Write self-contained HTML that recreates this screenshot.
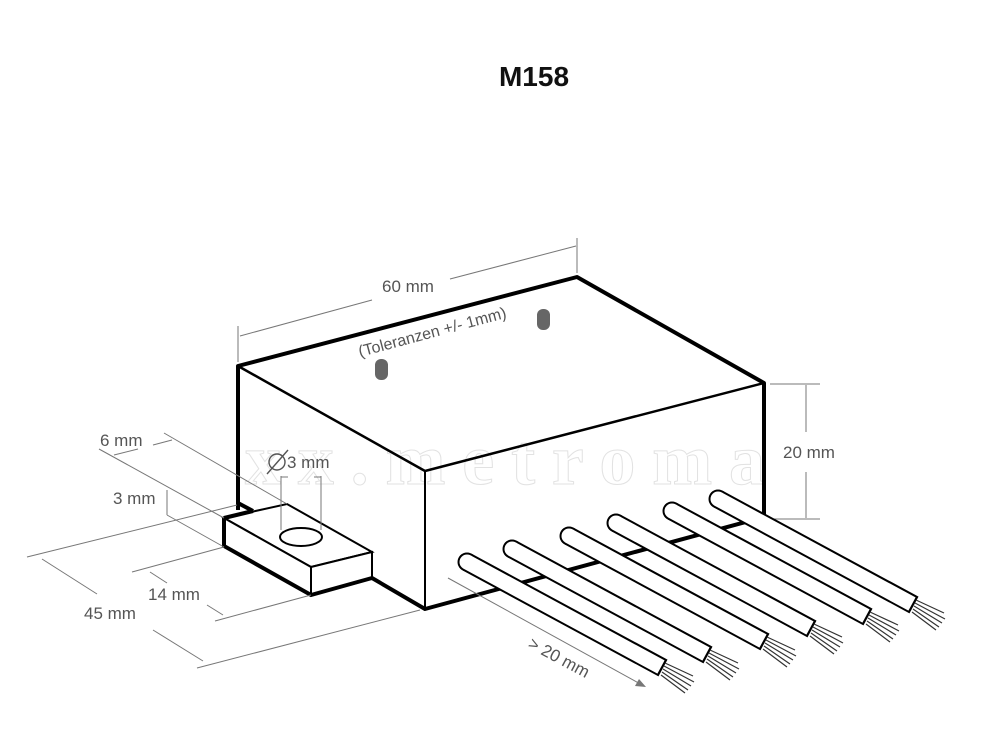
<!DOCTYPE html>
<html><head><meta charset="utf-8"><style>
html,body{margin:0;padding:0;background:#fff;}
svg{display:block;font-family:"Liberation Sans",sans-serif;}
</style></head><body>
<svg width="1000" height="750" viewBox="0 0 1000 750" xmlns="http://www.w3.org/2000/svg">
<rect width="1000" height="750" fill="#fff"/>
<text x="534" y="86" font-size="28" font-weight="bold" text-anchor="middle" fill="#111">M158</text>

<polygon points="238,366 577,277 764,383 425,471" fill="#fff"/>
<polygon points="238,366 425,471 425,608 238,510" fill="#fff"/>
<polygon points="425,471 764,383 764,517 425,608" fill="#fff"/>

<text x="245" y="484" font-family="Liberation Serif,serif" font-size="72" font-weight="bold" fill="none" stroke="#e2e2e2" stroke-width="1" textLength="520">xx.metroma</text>

<g stroke="#000" fill="none" stroke-linejoin="round">
 <polyline points="238,510 238,366 577,277 764,383 764,517" stroke-width="4"/>
 <polyline points="238,366 425,471 764,383" stroke-width="2.5"/>
 <line x1="425" y1="471" x2="425" y2="608" stroke-width="2"/>
 <polyline points="238,503 253,511" stroke-width="4"/>
 <polyline points="372,578 425,609 764,517" stroke-width="4"/>
</g>

<rect x="375" y="359" width="13" height="21" rx="6" fill="#666"/>
<rect x="537" y="309" width="13" height="21" rx="6" fill="#666"/>

<polygon points="224,518 287,504 372,552 311,567" fill="#fff" stroke="#000" stroke-width="2"/>
<polygon points="224,518 311,567 311,595 224,546" fill="#fff" stroke="#000" stroke-width="2"/>
<polygon points="311,567 372,552 372,578 311,595" fill="#fff" stroke="#000" stroke-width="2"/>
<polyline points="224,518 224,546 311,595 372,578" fill="none" stroke="#000" stroke-width="4"/>
<line x1="224" y1="518" x2="253" y2="511" stroke="#000" stroke-width="4"/>
<ellipse cx="301" cy="537" rx="21" ry="9" fill="#fff" stroke="#000" stroke-width="2"/>

<g stroke="#777" stroke-width="1" fill="none">
 <line x1="238" y1="362" x2="238" y2="326"/>
 <line x1="577" y1="273" x2="577" y2="238"/>
 <line x1="240" y1="336" x2="372" y2="300"/>
 <line x1="450" y1="279" x2="576" y2="246"/>
 <line x1="770" y1="384" x2="820" y2="384"/>
 <line x1="770" y1="519" x2="820" y2="519"/>
 <line x1="806" y1="385" x2="806" y2="432"/>
 <line x1="806" y1="472" x2="806" y2="518"/>
 <line x1="281" y1="476" x2="281" y2="530"/>
 <line x1="321" y1="476" x2="321" y2="530"/>
 <line x1="281" y1="477" x2="288" y2="477"/>
 <line x1="314" y1="477" x2="321" y2="477"/>
 <line x1="99" y1="449" x2="224" y2="518"/>
 <line x1="164" y1="433" x2="287" y2="504"/>
 <line x1="114" y1="455" x2="138" y2="449"/>
 <line x1="153" y1="445" x2="172" y2="440"/>
 <line x1="167" y1="490" x2="167" y2="515"/>
 <line x1="167" y1="515" x2="224" y2="547"/>
 <line x1="132" y1="572" x2="224" y2="547"/>
 <line x1="150" y1="572" x2="167" y2="583"/>
 <line x1="207" y1="605" x2="223" y2="615"/>
 <line x1="215" y1="621" x2="311" y2="595"/>
 <line x1="27" y1="557" x2="237" y2="505"/>
 <line x1="42" y1="559" x2="97" y2="594"/>
 <line x1="153" y1="630" x2="203" y2="661"/>
 <line x1="197" y1="668" x2="420" y2="610"/>
 <line x1="448" y1="578" x2="644" y2="686"/>
</g>
<polygon points="646,687 635,686 639,679" fill="#777"/>

<g fill="#555" font-size="17">
 <text x="408" y="292" text-anchor="middle">60 mm</text>
 <text x="0" y="0" font-size="16" transform="translate(360,357) rotate(-15)">(Toleranzen +/- 1mm)</text>
 <text x="783" y="458">20 mm</text>
 <text x="100" y="446">6 mm</text>
 <text x="113" y="504">3 mm</text>
 <text x="287" y="468">3 mm</text>
 <text x="148" y="600">14 mm</text>
 <text x="84" y="619">45 mm</text>
 <text x="0" y="0" transform="translate(527,647) rotate(28)">&gt; 20 mm</text>
</g>
<g stroke="#555" fill="none" stroke-width="1.4">
 <circle cx="277" cy="462" r="8"/>
 <line x1="267" y1="474" x2="288" y2="450"/>
</g>

<g>
 <g stroke="#000" stroke-width="19">
  <line x1="467" y1="562" x2="663" y2="668"/>
  <line x1="512" y1="549" x2="708" y2="655"/>
  <line x1="569" y1="536" x2="765" y2="642"/>
  <line x1="616" y1="523" x2="812" y2="629"/>
  <line x1="672" y1="511" x2="868" y2="617"/>
  <line x1="718" y1="499" x2="914" y2="605"/>
 </g>
 <g fill="#000">
  <circle cx="467" cy="562" r="9.5"/><circle cx="512" cy="549" r="9.5"/><circle cx="569" cy="536" r="9.5"/>
  <circle cx="616" cy="523" r="9.5"/><circle cx="672" cy="511" r="9.5"/><circle cx="718" cy="499" r="9.5"/>
 </g>
 <g stroke="#fff" stroke-width="15">
  <line x1="467" y1="562" x2="661" y2="667"/>
  <line x1="512" y1="549" x2="706" y2="654"/>
  <line x1="569" y1="536" x2="763" y2="641"/>
  <line x1="616" y1="523" x2="810" y2="628"/>
  <line x1="672" y1="511" x2="866" y2="616"/>
  <line x1="718" y1="499" x2="912" y2="604"/>
 </g>
 <g fill="#fff">
  <circle cx="467" cy="562" r="7.5"/><circle cx="512" cy="549" r="7.5"/><circle cx="569" cy="536" r="7.5"/>
  <circle cx="616" cy="523" r="7.5"/><circle cx="672" cy="511" r="7.5"/><circle cx="718" cy="499" r="7.5"/>
 </g>
 <g stroke="#333" stroke-width="1.2">
  <path d="M665,663 l28,13 M664,666 l30,16 M663,669 l28,17 M662,672 l26,18 M661,675 l24,18"/>
  <path d="M710,650 l28,13 M709,653 l30,16 M708,656 l28,17 M707,659 l26,18 M706,662 l24,18"/>
  <path d="M767,637 l28,13 M766,640 l30,16 M765,643 l28,17 M764,646 l26,18 M763,649 l24,18"/>
  <path d="M814,624 l28,13 M813,627 l30,16 M812,630 l28,17 M811,633 l26,18 M810,636 l24,18"/>
  <path d="M870,612 l28,13 M869,615 l30,16 M868,618 l28,17 M867,621 l26,18 M866,624 l24,18"/>
  <path d="M916,600 l28,13 M915,603 l30,16 M914,606 l28,17 M913,609 l26,18 M912,612 l24,18"/>
 </g>
</g>
</svg>
</body></html>
